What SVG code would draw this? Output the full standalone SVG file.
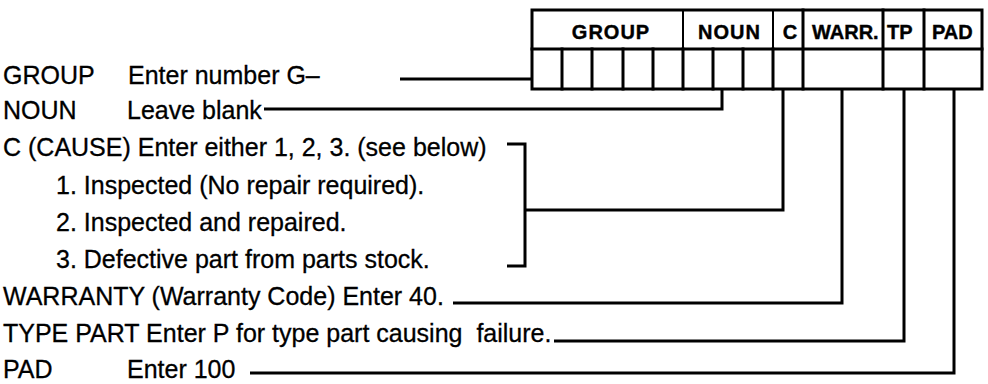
<svg xmlns="http://www.w3.org/2000/svg" width="988" height="384" viewBox="0 0 988 384">
<style>
.t{font-family:"Liberation Sans",Arial,Helvetica,sans-serif;font-size:25px;fill:#000;stroke:#000;stroke-width:0.3}
.h{font-family:"Liberation Sans",Arial,Helvetica,sans-serif;font-size:20px;font-weight:bold;fill:#000;stroke:#000;stroke-width:0.4}
.b{stroke:#000;stroke-width:3;fill:none;stroke-linecap:square}
.th{stroke:#000;stroke-width:2;fill:none}
.c{stroke:#000;stroke-width:3;fill:none;stroke-linejoin:miter}
</style>
<rect width="988" height="384" fill="#fff"/>
<g id="form-table">
<rect class="b" x="532" y="10" width="450" height="79"/>
<line class="b" x1="532" y1="49" x2="982" y2="49"/>
<line class="th" x1="683" y1="10" x2="683" y2="49"/>
<line class="th" x1="773" y1="10" x2="773" y2="49"/>
<line class="b" x1="803" y1="10" x2="803" y2="89"/>
<line class="b" x1="883" y1="10" x2="883" y2="89"/>
<line class="b" x1="924" y1="10" x2="924" y2="89"/>
<line class="b" x1="562" y1="49" x2="562" y2="89"/>
<line class="b" x1="592" y1="49" x2="592" y2="89"/>
<line class="b" x1="623" y1="49" x2="623" y2="89"/>
<line class="b" x1="653" y1="49" x2="653" y2="89"/>
<line class="b" x1="683" y1="49" x2="683" y2="89"/>
<line class="b" x1="713" y1="49" x2="713" y2="89"/>
<line class="b" x1="743" y1="49" x2="743" y2="89"/>
<line class="b" x1="773" y1="49" x2="773" y2="89"/>
<text class="h" x="611" y="39" text-anchor="middle" letter-spacing="1">GROUP</text>
<text class="h" x="761" y="39" text-anchor="end" letter-spacing="1">NOUN</text>
<text class="h" x="790" y="39" text-anchor="middle">C</text>
<text class="h" x="812" y="39">WARR.</text>
<text class="h" x="887" y="39">TP</text>
<text class="h" x="932" y="39">PAD</text>
</g>
<g id="label-group"><text class="t" x="3" y="84">GROUP</text><text class="t" x="128" y="84">Enter number G–</text></g>
<g id="label-noun"><text class="t" x="3" y="119">NOUN</text><text class="t" x="127" y="119">Leave blank</text></g>
<g id="label-cause">
<text class="t" x="3" y="156">C (CAUSE) Enter either 1, 2, 3. (see below)</text>
<text class="t" x="56" y="194">1. Inspected (No repair required).</text>
<text class="t" x="56" y="231">2. Inspected and repaired.</text>
<text class="t" x="56" y="268">3. Defective part from parts stock.</text>
</g>
<g id="label-warranty"><text class="t" x="3" y="305">WARRANTY (Warranty Code) Enter 40.</text></g>
<g id="label-typepart"><text class="t" x="3" y="342" xml:space="preserve">TYPE PART Enter P for type part causing  failure.</text></g>
<g id="label-pad"><text class="t" x="3" y="378">PAD</text><text class="t" x="127" y="378">Enter 100</text></g>
<g id="connectors">
<polyline class="c" points="400,79 532,79"/>
<polyline class="c" points="264,109 722,109 722,89"/>
<polyline class="c" points="507,144 525,144 525,266 507,266"/>
<polyline class="c" points="525,210 783,210 783,89"/>
<polyline class="c" points="453,303 842,303 842,89"/>
<polyline class="c" points="554,341 904,341 904,89"/>
<polyline class="c" points="250,373 954,373 954,89"/>
</g>
</svg>
